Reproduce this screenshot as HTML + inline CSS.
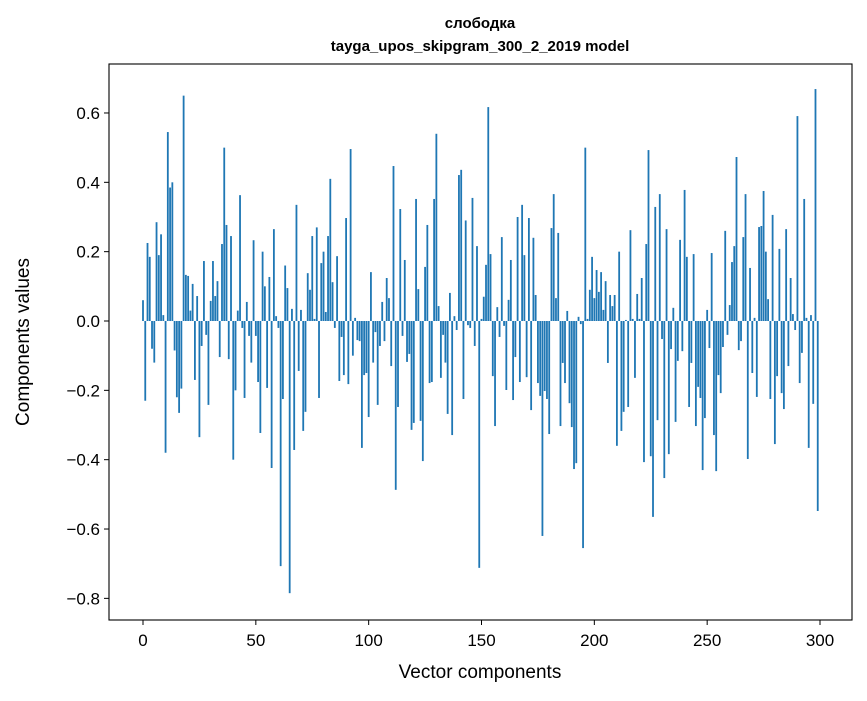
<!DOCTYPE html>
<html><head><meta charset="utf-8"><style>
html,body{margin:0;padding:0;background:#fff;}
svg text{font-family:"Liberation Sans","DejaVu Sans",sans-serif;fill:#000;}
</style></head><body>
<svg id="chart" width="867" height="696" viewBox="0 0 867 696" xmlns="http://www.w3.org/2000/svg">
<rect width="867" height="696" fill="#fff"/>
<text x="480" y="28" text-anchor="middle" font-size="15" font-weight="bold">слободка</text>
<text x="480" y="51" text-anchor="middle" font-size="15" font-weight="bold">tayga_upos_skipgram_300_2_2019 model</text>
<g id="bars"></g>
<g id="axes"></g>
<rect x="109" y="64" width="743" height="556" fill="none" stroke="#000" stroke-width="1.1"/>
<text x="480" y="678" text-anchor="middle" font-size="19">Vector components</text>
<text transform="translate(29,342) rotate(-90)" text-anchor="middle" font-size="19">Components values</text>
</svg>
<script>
const values = [0.06,-0.23,0.225,0.185,-0.08,-0.12,0.285,0.19,0.25,0.017,
-0.38,0.545,0.385,0.40,-0.085,-0.22,-0.265,-0.195,0.65,0.133,
0.13,0.03,0.107,-0.17,0.072,-0.335,-0.072,0.173,-0.04,-0.242,
0.058,0.173,0.072,0.115,-0.104,0.222,0.50,0.277,-0.11,0.245,
-0.40,-0.2,0.03,0.363,-0.02,-0.222,0.055,-0.043,-0.12,0.233,
-0.043,-0.176,-0.323,0.2,0.1,-0.193,0.127,-0.424,0.265,0.014,
-0.02,-0.707,-0.225,0.16,0.095,-0.785,0.035,-0.372,0.335,-0.144,
0.032,-0.317,-0.262,0.138,0.09,0.245,0.006,0.27,-0.222,0.167,
0.2,0.026,0.245,0.41,0.112,-0.02,0.187,-0.173,-0.046,-0.156,
0.297,-0.182,0.496,-0.1,0.009,-0.055,-0.058,-0.366,-0.156,-0.15,
-0.277,0.141,-0.12,-0.032,-0.242,-0.072,0.055,-0.058,0.124,0.066,
-0.13,0.447,-0.487,-0.248,0.323,-0.043,0.176,-0.118,-0.095,-0.314,
-0.294,0.352,0.092,-0.288,-0.404,0.156,0.277,-0.179,-0.176,0.352,
0.54,0.043,-0.164,-0.04,-0.12,-0.268,0.081,-0.329,0.014,-0.026,
0.421,0.436,-0.225,0.29,-0.012,-0.02,0.355,-0.072,0.216,-0.712,
0.006,0.07,0.162,0.617,0.193,-0.159,-0.303,0.04,-0.046,0.242,
-0.014,-0.199,0.061,0.176,-0.228,-0.104,0.3,-0.176,0.335,0.19,
-0.162,0.297,-0.257,0.24,0.075,-0.179,-0.216,-0.62,-0.202,-0.225,
-0.326,0.268,0.366,0.066,0.254,-0.303,-0.121,-0.179,0.029,-0.237,
-0.306,-0.427,-0.41,0.012,-0.009,-0.655,0.5,0.006,0.09,0.185,
0.066,0.147,0.084,0.141,0.032,0.115,-0.121,0.075,0.043,0.075,
-0.36,0.2,-0.317,-0.262,0.003,-0.248,0.262,0.006,-0.164,0.078,
0.006,0.124,-0.407,0.222,0.493,-0.39,-0.565,0.329,-0.286,0.366,
-0.052,-0.453,0.265,-0.384,-0.081,0.038,-0.291,-0.115,0.234,-0.087,
0.378,0.185,-0.248,-0.121,0.193,-0.303,-0.19,-0.222,-0.43,-0.28,
0.032,-0.078,0.196,-0.329,-0.433,-0.156,-0.208,-0.075,0.26,-0.04,
0.046,0.17,0.216,0.473,-0.084,-0.058,0.242,0.366,-0.398,0.153,
-0.15,0.009,-0.219,0.271,0.274,0.375,0.2,0.063,-0.225,0.306,
-0.355,-0.159,0.208,-0.208,-0.254,0.265,-0.13,0.124,0.02,-0.026,
0.591,-0.179,-0.092,0.352,0.009,-0.366,0.017,-0.239,0.669,-0.548];
const xTicks = [0,50,100,150,200,250,300];
const yTicks = [-0.8,-0.6,-0.4,-0.2,0.0,0.2,0.4,0.6];
const yTickLabels = ["\u22120.8","\u22120.6","\u22120.4","\u22120.2","0.0","0.2","0.4","0.6"];

const NS = "http://www.w3.org/2000/svg";
function xScale(i){ return 143 + i * (677/300); }
function yScale(v){ return 321 - v * 346.7; }
const barW = 0.8 * 677/300;
const gb = document.getElementById('bars');
values.forEach((v,i)=>{
  const r = document.createElementNS(NS,'rect');
  const y0 = yScale(0), y1 = yScale(v);
  r.setAttribute('x', xScale(i) - barW/2);
  r.setAttribute('y', Math.min(y0,y1));
  r.setAttribute('width', barW);
  r.setAttribute('height', Math.abs(y1-y0));
  r.setAttribute('fill', '#1f77b4');
  
  
  gb.appendChild(r);
});
const ga = document.getElementById('axes');
xTicks.forEach(t=>{
  const x = xScale(t);
  const l = document.createElementNS(NS,'line');
  l.setAttribute('x1',x); l.setAttribute('x2',x);
  l.setAttribute('y1',620); l.setAttribute('y2',625);
  l.setAttribute('stroke','#000');
  
  
  ga.appendChild(l);
  const tx = document.createElementNS(NS,'text');
  tx.setAttribute('x',x); tx.setAttribute('y',646);
  tx.setAttribute('text-anchor','middle'); tx.setAttribute('font-size','17');
  tx.textContent = t;
  
  
  ga.appendChild(tx);
});
yTicks.forEach((t,k)=>{
  const y = yScale(t);
  const l = document.createElementNS(NS,'line');
  l.setAttribute('x1',104); l.setAttribute('x2',109);
  l.setAttribute('y1',y); l.setAttribute('y2',y);
  l.setAttribute('stroke','#000');
  
  
  ga.appendChild(l);
  const tx = document.createElementNS(NS,'text');
  tx.setAttribute('x',100); tx.setAttribute('y',y+6);
  tx.setAttribute('text-anchor','end'); tx.setAttribute('font-size','17');
  tx.textContent = yTickLabels[k];
  
  
  ga.appendChild(tx);
});
</script>
</body></html>
